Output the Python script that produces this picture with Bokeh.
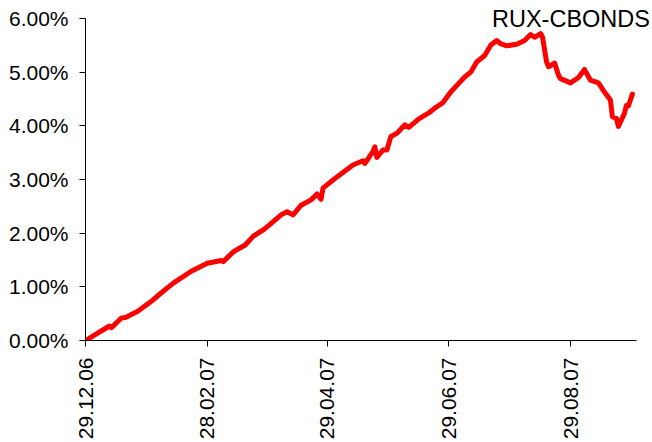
from math import pi
from datetime import datetime, timedelta
from bokeh.plotting import figure
from bokeh.models import (ColumnDataSource, FixedTicker, DatetimeTickFormatter,
                          PrintfTickFormatter, Range1d, Label)
from bokeh.embed import file_html
from bokeh.resources import INLINE

# ---- data ----
dates = [
    "2006-12-29", "2007-01-10", "2007-01-11", "2007-01-16", "2007-01-18", "2007-01-24",
    "2007-01-31", "2007-02-05", "2007-02-11", "2007-02-20", "2007-02-28", "2007-03-07",
    "2007-03-08", "2007-03-13", "2007-03-19", "2007-03-23", "2007-03-28", "2007-03-31",
    "2007-04-06", "2007-04-09", "2007-04-12", "2007-04-16", "2007-04-21", "2007-04-24",
    "2007-04-26", "2007-04-27", "2007-05-02", "2007-05-07", "2007-05-12", "2007-05-17",
    "2007-05-18", "2007-05-22", "2007-05-23", "2007-05-24", "2007-05-27", "2007-05-29",
    "2007-05-31", "2007-06-03", "2007-06-07", "2007-06-09", "2007-06-14", "2007-06-19",
    "2007-06-22", "2007-06-26", "2007-06-30", "2007-07-04", "2007-07-07", "2007-07-10",
    "2007-07-13", "2007-07-17", "2007-07-20", "2007-07-23", "2007-07-25", "2007-07-28",
    "2007-08-02", "2007-08-06", "2007-08-09", "2007-08-11", "2007-08-14", "2007-08-15",
    "2007-08-17", "2007-08-18", "2007-08-21", "2007-08-23", "2007-08-24", "2007-08-29",
    "2007-09-02", "2007-09-05", "2007-09-08", "2007-09-12", "2007-09-15", "2007-09-18",
    "2007-09-19", "2007-09-21", "2007-09-22", "2007-09-25", "2007-09-26", "2007-09-27",
    "2007-09-29",
]
values = [
    0.00, 0.27, 0.24, 0.42, 0.43, 0.54,
    0.73, 0.89, 1.07, 1.29, 1.44, 1.49,
    1.47, 1.65, 1.78, 1.94, 2.06, 2.15,
    2.34, 2.40, 2.34, 2.52, 2.62, 2.73,
    2.63, 2.84, 2.99, 3.13, 3.27, 3.35,
    3.30, 3.52, 3.61, 3.41, 3.55, 3.55,
    3.80, 3.86, 4.02, 3.97, 4.13, 4.24,
    4.33, 4.43, 4.63, 4.79, 4.91, 5.00,
    5.19, 5.31, 5.50, 5.59, 5.53, 5.49,
    5.52, 5.59, 5.70, 5.65, 5.72, 5.65,
    5.19, 5.10, 5.17, 4.94, 4.88, 4.80,
    4.90, 5.05, 4.85, 4.80, 4.63, 4.48,
    4.17, 4.14, 3.99, 4.23, 4.38, 4.37,
    4.59,
]
x_tick_dates = ["2006-12-29", "2007-02-28", "2007-04-29", "2007-06-29", "2007-08-29"]
y_ticks = [0, 1, 2, 3, 4, 5, 6]
series_name = "RUX-CBONDS"


def to_dt(s):
    return datetime.strptime(s, "%Y-%m-%d")


def to_ms(d):
    return (d - datetime(1970, 1, 1)).total_seconds() * 1000.0


src = ColumnDataSource(dict(x=[to_dt(d) for d in dates], y=values))

x_start = to_dt("2006-12-29")
x_end = x_start + timedelta(days=284.08)      # frame extends under the label
axis_end = x_start + timedelta(days=276.06)   # visible end of the x axis line
y_top = 6.186

p = figure(width=652, height=442, x_axis_type="datetime",
           output_backend="svg", toolbar_location=None,
           x_range=Range1d(x_start, x_end), y_range=Range1d(0, y_top),
           min_border_left=85, min_border_right=0, min_border_top=8,
           min_border_bottom=101)
p.outline_line_color = None
p.xgrid.visible = False
p.ygrid.visible = False
p.background_fill_color = "white"
p.border_fill_color = "white"

p.line("x", "y", source=src, line_color="#FF0000", line_width=5,
       line_join="round", line_cap="round")

FONT = "Liberation Sans"

xa = p.xaxis[0]
xa.ticker = FixedTicker(ticks=[to_ms(to_dt(d)) for d in x_tick_dates])
fmt = "%d.%m.%y"
xa.formatter = DatetimeTickFormatter(days=fmt, months=fmt, years=fmt, hours=fmt,
                                     minutes=fmt, seconds=fmt, milliseconds=fmt,
                                     microseconds=fmt, minsec=fmt, hourmin=fmt)
xa.major_label_orientation = pi / 2
xa.minor_tick_line_color = None
xa.bounds = (to_ms(x_start), to_ms(axis_end))

ya = p.yaxis[0]
ya.ticker = FixedTicker(ticks=y_ticks)
ya.formatter = PrintfTickFormatter(format="%.2f%%")
ya.minor_tick_line_color = None
ya.bounds = (0, 6)

for ax in (xa, ya):
    ax.axis_line_color = "black"
    ax.axis_line_width = 1
    ax.major_tick_line_color = "black"
    ax.major_tick_in = 0
    ax.major_tick_out = 6
    ax.major_label_text_font = FONT
    ax.major_label_text_font_size = "21px"
    ax.major_label_text_color = "black"
    ax.major_label_standoff = 11

lab = Label(x=to_ms(x_start + timedelta(days=282.8)), y=5.99, text=series_name,
            text_align="right", text_baseline="alphabetic", text_font=FONT,
            text_font_size="23.5px", text_color="black")
p.add_layout(lab)

open("out.html", "w").write(file_html(p, INLINE))
